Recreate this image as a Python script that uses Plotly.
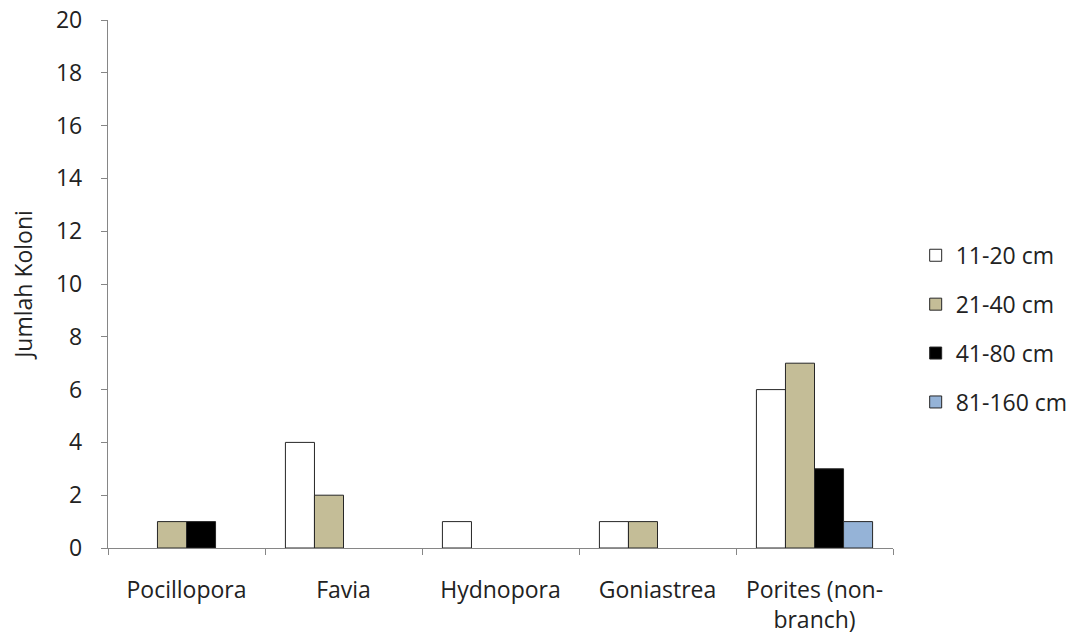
import plotly.graph_objects as go

categories = ["Pocillopora", "Favia", "Hydnopora", "Goniastrea", "Porites (non-<br>branch)"]
size_classes = ["11-20 cm", "21-40 cm", "41-80 cm", "81-160 cm"]
# None = no colonies in that size class (no bar drawn)
s_11_20 = [None, 4, 1, 1, 6]
s_21_40 = [1, 2, None, 1, 7]
s_41_80 = [1, None, None, None, 3]
s_81_160 = [None, None, None, None, 1]
series = [s_11_20, s_21_40, s_41_80, s_81_160]
colors = ["#FFFFFF", "#C4BD97", "#000000", "#95B3D7"]
y_ticks = [0, 2, 4, 6, 8, 10, 12, 14, 16, 18, 20]

FONT = "Open Sans, Liberation Sans, sans-serif"
FS = 23

fig = go.Figure()
for i, (name, vals, col) in enumerate(zip(size_classes, series, colors)):
    fig.add_trace(go.Bar(
        x=categories, y=vals, name=name,
        marker=dict(color=col, line=dict(color="#262626", width=1)),
        legendgroup=f"g{i}",
    ))

fig.update_layout(
    width=1076, height=636,
    margin=dict(l=108, r=183, t=20, b=88, autoexpand=False),
    paper_bgcolor="white", plot_bgcolor="white",
    barmode="group", bargap=0.26, bargroupgap=0,
    font=dict(family=FONT, size=FS, color="#222222"),
    legend=dict(
        xref="container", yref="container",
        x=0.851, y=0.483, xanchor="left", yanchor="middle",
        font=dict(size=FS), tracegroupgap=16,
        itemwidth=30,
    ),
    showlegend=True,
)
fig.update_xaxes(
    showline=True, linecolor="#868686", linewidth=1.3,
    ticks="outside", tickson="boundaries", ticklen=6, tickcolor="#868686",
    showgrid=False, tickfont=dict(size=FS), ticklabelstandoff=21,
    automargin=False,
)
fig.update_yaxes(
    range=[0, 20], tickvals=y_ticks,
    showline=True, linecolor="#868686", linewidth=1.3,
    ticks="outside", ticklen=6, tickcolor="#868686",
    showgrid=False, zeroline=False, tickfont=dict(size=FS), ticklabelstandoff=14,
    title=dict(text="Jumlah Koloni", font=dict(size=FS), standoff=16),
    automargin=False,
)

fig.write_html("out.html")
